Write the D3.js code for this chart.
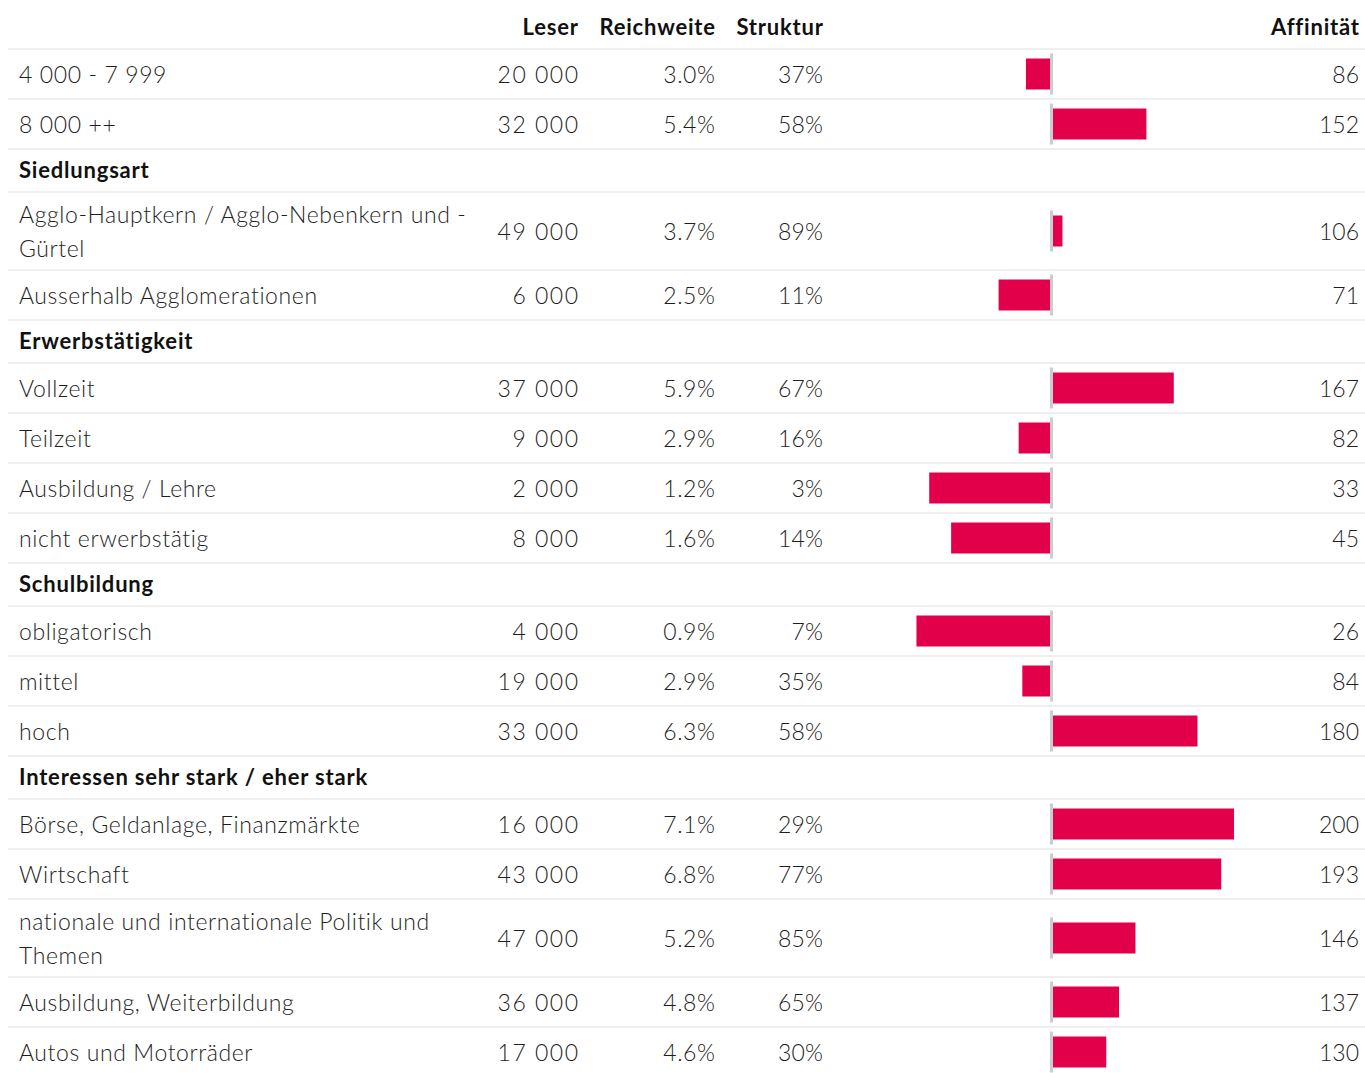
<!DOCTYPE html>
<html>
<head>
<meta charset="utf-8">
<script src="https://cdn.jsdelivr.net/npm/d3@7"></script>
<style>
  html, body { margin: 0; padding: 0; background: #fff; }
  svg { display: block; }
  text { font-family: Lato, "Open Sans", sans-serif; }
</style>
</head>
<body>
<svg id="chart" width="1365" height="1073"></svg>
<script>
// ---- data ----
const columns = ["Leser", "Reichweite", "Struktur", "Affinität"];
const labels = [
  "4 000 - 7 999", "8 000 ++",
  "Siedlungsart",
  "Agglo-Hauptkern / Agglo-Nebenkern und -Gürtel", "Ausserhalb Agglomerationen",
  "Erwerbstätigkeit",
  "Vollzeit", "Teilzeit", "Ausbildung / Lehre", "nicht erwerbstätig",
  "Schulbildung",
  "obligatorisch", "mittel", "hoch",
  "Interessen sehr stark / eher stark",
  "Börse, Geldanlage, Finanzmärkte", "Wirtschaft",
  "nationale und internationale Politik und Themen",
  "Ausbildung, Weiterbildung", "Autos und Motorräder"
];
const leser      = [20000, 32000, null, 49000, 6000, null, 37000, 9000, 2000, 8000, null, 4000, 19000, 33000, null, 16000, 43000, 47000, 36000, 17000];
const reichweite = [3.0, 5.4, null, 3.7, 2.5, null, 5.9, 2.9, 1.2, 1.6, null, 0.9, 2.9, 6.3, null, 7.1, 6.8, 5.2, 4.8, 4.6];
const struktur   = [37, 58, null, 89, 11, null, 67, 16, 3, 14, null, 7, 35, 58, null, 29, 77, 85, 65, 30];
const affinitaet = [86, 152, null, 106, 71, null, 167, 82, 33, 45, null, 26, 84, 180, null, 200, 193, 146, 137, 130];
const affinityDomain = [0, 200];
const affinityBase = 100;

// ---- layout ----
const W = 1365;
const left = 8, labelX = 19, labelMax = 462;
const colRight = { "Leser": 578, "Reichweite": 715, "Struktur": 823, "Affinität": 1359 };
const colSpacing = { "Leser": 1.5, "Reichweite": 0.6, "Struktur": 0.2, "Affinität": 0 };
const headerH = 49, rowH = 50, groupH = 43, lineH = 34;
const fontSize = 23, labelLS = 0.6, boldSize = 22, boldLS = 0.8;
const textColor = "#1e1e1e", barColor = "#e2004a", sepColor = "#efefef", baseColor = "#cccccc";

const svg = d3.select("#chart");
const fmtInt = d3.formatLocale({ decimal: ".", thousands: " ", grouping: [3], currency: ["", ""] }).format(",d");
const fmt1 = d3.format(".1f");

const x = d3.scaleLinear().domain(affinityDomain).range([869, 1234]);

// measure helper for wrapping
const measure = svg.append("text").attr("font-size", fontSize).attr("font-weight", 300)
  .attr("letter-spacing", labelLS).attr("visibility", "hidden");
function textWidth(s) { measure.text(s); return measure.node().getComputedTextLength(); }
function wrap(label) {
  const tokens = label.match(/[^\s-]*-|[^\s-]+|\s+/g);
  const lines = []; let cur = "";
  tokens.forEach(t => {
    const trial = cur + t;
    if (cur.trim() !== "" && !/^\s+$/.test(t) && textWidth(trial.trimEnd()) > labelMax) {
      lines.push(cur.trimEnd()); cur = t.trimStart();
    } else cur = trial;
  });
  if (cur.trim() !== "") lines.push(cur.trimEnd());
  return lines;
}

const rows = labels.map((l, i) => {
  const group = leser[i] === null;
  const lines = group ? [l] : wrap(l);
  const h = group ? groupH : rowH + (lines.length - 1) * 28;
  return { label: l, lines, group, leser: leser[i], reichweite: reichweite[i], struktur: struktur[i], aff: affinitaet[i], h };
});
measure.remove();
let yAcc = headerH;
rows.forEach(r => { r.y0 = yAcc; yAcc += r.h; r.y1 = yAcc; r.cy = (r.y0 + r.y1) / 2; });

// header
const head = svg.append("g");
columns.forEach(c => {
  head.append("text").attr("x", colRight[c] + boldLS).attr("y", 35)
    .attr("text-anchor", "end").attr("font-size", boldSize).attr("font-weight", 700)
    .attr("letter-spacing", boldLS).attr("fill", "#111").text(c);
});
svg.append("line").attr("x1", left).attr("x2", W).attr("y1", headerH).attr("y2", headerH)
  .attr("stroke", sepColor).attr("stroke-width", 2);

// rows
const g = svg.selectAll("g.row").data(rows).enter().append("g").attr("class", "row");
g.append("line").attr("x1", left).attr("x2", W).attr("y1", d => d.y1).attr("y2", d => d.y1)
  .attr("stroke", sepColor).attr("stroke-width", 2);

// group headers
g.filter(d => d.group).append("text")
  .attr("x", labelX).attr("y", d => d.cy + 7.5)
  .attr("font-size", boldSize).attr("font-weight", 700).attr("letter-spacing", boldLS)
  .attr("fill", "#111")
  .text(d => d.label);

const data = g.filter(d => !d.group);
data.each(function(d) {
  const sel = d3.select(this);
  const n = d.lines.length;
  d.lines.forEach((ln, k) => {
    sel.append("text").attr("x", labelX)
      .attr("y", d.cy + (k - (n - 1) / 2) * lineH + 8.5)
      .attr("font-size", fontSize).attr("font-weight", 300).attr("letter-spacing", labelLS)
      .attr("fill", textColor)
      .text(ln);
  });
});
const vals = [
  ["Leser", d => fmtInt(d.leser)],
  ["Reichweite", d => fmt1(d.reichweite) + "%"],
  ["Struktur", d => d.struktur + "%"],
  ["Affinität", d => String(d.aff)]
];
vals.forEach(([c, f]) => {
  data.append("text").attr("x", colRight[c] + colSpacing[c]).attr("y", d => d.cy + 8.5)
    .attr("text-anchor", "end").attr("font-size", fontSize).attr("font-weight", 300)
    .attr("letter-spacing", colSpacing[c])
    .attr("fill", textColor).text(f);
});
// bars
data.append("rect")
  .attr("x", d => Math.min(x(d.aff), x(affinityBase)))
  .attr("width", d => Math.abs(x(d.aff) - x(affinityBase)))
  .attr("y", d => d.cy - 15.5).attr("height", 31)
  .attr("fill", barColor);
data.append("line")
  .attr("x1", x(affinityBase)).attr("x2", x(affinityBase))
  .attr("y1", d => d.cy - 20.5).attr("y2", d => d.cy + 20.5)
  .attr("stroke", baseColor).attr("stroke-width", 3);
</script>
</body>
</html>
